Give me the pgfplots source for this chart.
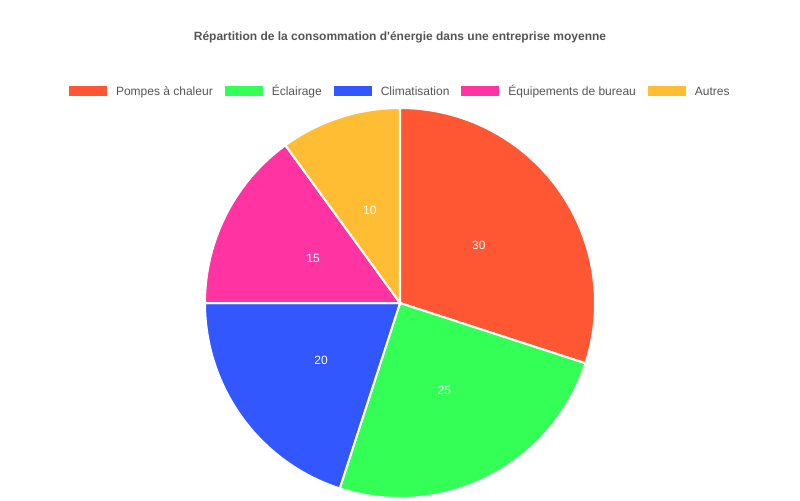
\documentclass[border=0pt]{standalone}
\usepackage{fontspec}
\setmainfont{Liberation Sans}
\usepackage{pgfplots}
\pgfplotsset{compat=1.18}
\usepgfplotslibrary{polar}

\definecolor{cPompes}{HTML}{FF5733}
\definecolor{cEclair}{HTML}{33FF57}
\definecolor{cClim}{HTML}{3357FF}
\definecolor{cEquip}{HTML}{FF33A1}
\definecolor{cAutres}{HTML}{FFBD33}
\definecolor{txt}{HTML}{555555}

% shares in percent, slices run clockwise from the top
% Pompes 30, Eclairage 25, Climatisation 20, Equipements 15, Autres 10

\tikzset{
  slice/.style={draw=white, line width=1.5pt, samples=90},
  lab/.style={text=white, font=\fontsize{9}{11}\selectfont},
}

\begin{document}
\begin{tikzpicture}
\useasboundingbox (0,0) rectangle (600pt,375pt);

\node[font=\bfseries\fontsize{9}{11}\selectfont, text=txt] at (300pt,347.25pt)
  {Répartition de la consommation d\textquotesingle énergie dans une entreprise moyenne};

\begin{polaraxis}[
  at={(300pt,147.75pt)}, anchor=center,
  scale only axis,
  width=292.5pt, height=292.5pt,
  ymin=0, ymax=1,
  hide axis,
  clip=false,
  legend columns=-1,
  legend style={
    at={(0.5,1.0436)}, anchor=center,
    draw=none, fill=none,
    font=\fontsize{9}{11}\selectfont, text=txt,
    /tikz/every even column/.append style={column sep=8pt},
    nodes={inner sep=1pt, text height=6.5pt, text depth=0pt},
  },
  legend image code/.code={
    \fill[#1, draw=none] (0pt,-3.75pt) rectangle (28.5pt,3.75pt);
    \path (33.5pt,0pt);
  },
]
\addplot[slice, fill=cPompes, domain=90:-18] {1} -- (axis cs:0,0) -- cycle;
\addlegendentry{Pompes à chaleur}
\addplot[slice, fill=cEclair, domain=-18:-108] {1} -- (axis cs:0,0) -- cycle;
\addlegendentry{Éclairage}
\addplot[slice, fill=cClim, domain=-108:-180] {1} -- (axis cs:0,0) -- cycle;
\addlegendentry{Climatisation}
\addplot[slice, fill=cEquip, domain=-180:-234] {1} -- (axis cs:0,0) -- cycle;
\addlegendentry{Équipements de bureau}
\addplot[slice, fill=cAutres, domain=-234:-270] {1} -- (axis cs:0,0) -- cycle;
\addlegendentry{Autres}

\node[lab] at (axis cs:36,0.5) {30};
\node[lab] at (axis cs:-63,0.5) {25};
\node[lab] at (axis cs:-144,0.5) {20};
\node[lab] at (axis cs:-207,0.5) {15};
\node[lab] at (axis cs:-252,0.5) {10};
\end{polaraxis}
\end{tikzpicture}
\end{document}
